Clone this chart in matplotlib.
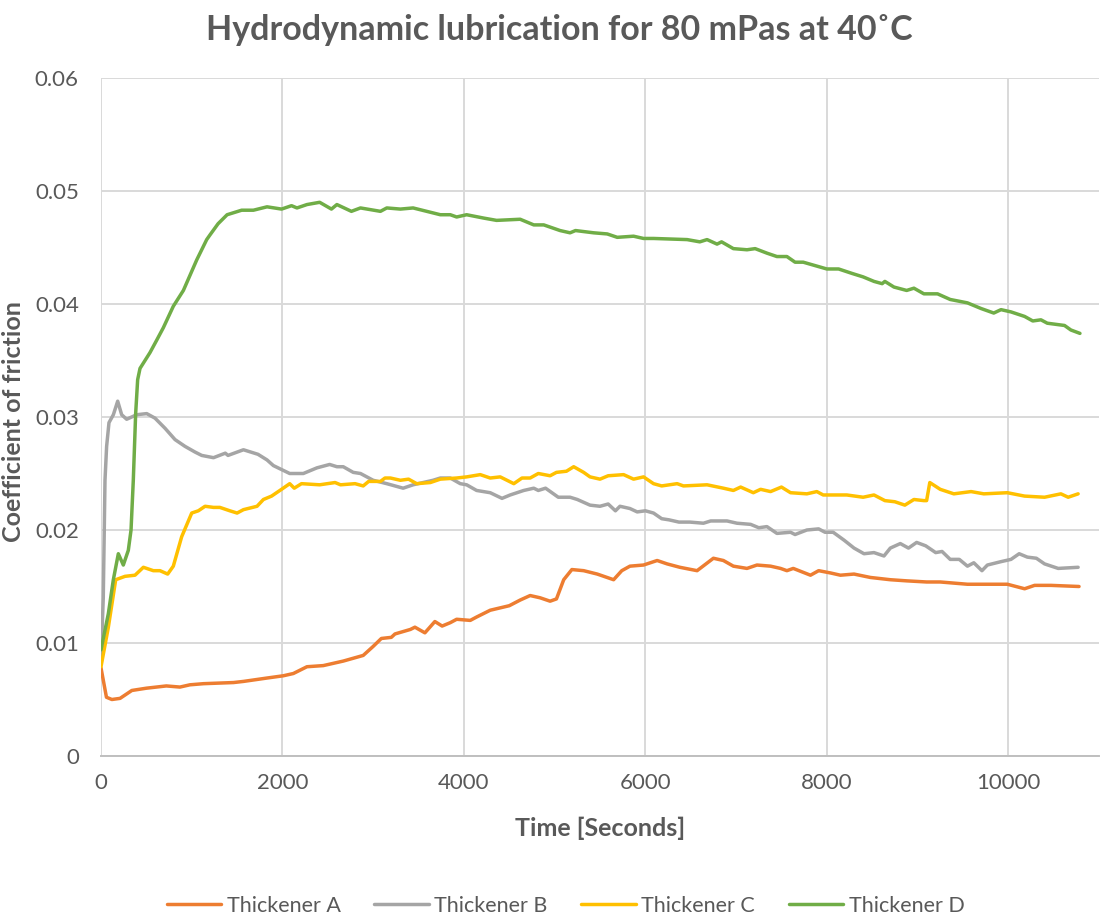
import matplotlib
matplotlib.use("Agg")
import matplotlib.pyplot as plt
from matplotlib.ticker import MultipleLocator, FormatStrFormatter

plt.rcParams['font.family'] = ['Lato', 'DejaVu Sans']

# (time in s, coefficient of friction)
thickener_a = [
    (0, 0.0078), (60, 0.0052), (120, 0.0050), (210, 0.0051), (340, 0.0058), (500, 0.0060),
    (720, 0.0062), (870, 0.0061), (980, 0.0063), (1130, 0.0064), (1460, 0.0065), (1570, 0.0066),
    (1830, 0.0069), (2010, 0.0071), (2120, 0.0073), (2270, 0.0079), (2450, 0.0080), (2670, 0.0084),
    (2890, 0.0089), (3000, 0.0097), (3090, 0.0104), (3200, 0.0105), (3240, 0.0108), (3410, 0.0112),
    (3460, 0.0114), (3570, 0.0109), (3680, 0.0119), (3760, 0.0115), (3850, 0.0118), (3920, 0.0121),
    (4070, 0.0120), (4140, 0.0123), (4290, 0.0129), (4500, 0.0133), (4620, 0.0138), (4730, 0.0142),
    (4840, 0.0140), (4950, 0.0137), (5020, 0.0139), (5100, 0.0156), (5190, 0.0165), (5320, 0.0164),
    (5470, 0.0161), (5650, 0.0156), (5740, 0.0164), (5830, 0.0168), (5980, 0.0169), (6130, 0.0173),
    (6240, 0.0170), (6380, 0.0167), (6570, 0.0164), (6750, 0.0175), (6860, 0.0173), (6970, 0.0168),
    (7120, 0.0166), (7230, 0.0169), (7380, 0.0168), (7490, 0.0166), (7560, 0.0164), (7630, 0.0166),
    (7820, 0.0160), (7910, 0.0164), (8040, 0.0162), (8150, 0.0160), (8300, 0.0161), (8480, 0.0158),
    (8700, 0.0156), (8880, 0.0155), (9100, 0.0154), (9250, 0.0154), (9550, 0.0152), (9990, 0.0152),
    (10180, 0.0148), (10290, 0.0151), (10470, 0.0151), (10780, 0.0150),
]

thickener_b = [
    (0, 0.0085), (25, 0.0140), (44, 0.0244), (62, 0.0274), (88, 0.0295), (136, 0.0302),
    (184, 0.0314), (228, 0.0302), (283, 0.0298), (393, 0.0302), (504, 0.0303), (595, 0.0299),
    (706, 0.0290), (816, 0.0280), (926, 0.0274), (1036, 0.0269), (1110, 0.0266), (1240, 0.0264),
    (1370, 0.0268), (1400, 0.0266), (1570, 0.0271), (1730, 0.0267), (1830, 0.0262), (1900, 0.0257),
    (2080, 0.0250), (2230, 0.0250), (2380, 0.0255), (2520, 0.0258), (2600, 0.0256), (2670, 0.0256),
    (2780, 0.0251), (2860, 0.0250), (3000, 0.0244), (3150, 0.0241), (3330, 0.0237), (3440, 0.0240),
    (3660, 0.0244), (3740, 0.0246), (3850, 0.0246), (3960, 0.0241), (4030, 0.0240), (4140, 0.0235),
    (4290, 0.0233), (4420, 0.0228), (4510, 0.0231), (4660, 0.0235), (4770, 0.0237), (4820, 0.0235),
    (4900, 0.0237), (5040, 0.0229), (5170, 0.0229), (5250, 0.0227), (5390, 0.0222), (5500, 0.0221),
    (5590, 0.0223), (5670, 0.0217), (5720, 0.0221), (5830, 0.0219), (5910, 0.0216), (6000, 0.0217),
    (6090, 0.0215), (6180, 0.0210), (6260, 0.0209), (6370, 0.0207), (6490, 0.0207), (6640, 0.0206),
    (6720, 0.0208), (6900, 0.0208), (7010, 0.0206), (7160, 0.0205), (7250, 0.0202), (7340, 0.0203),
    (7450, 0.0197), (7600, 0.0198), (7650, 0.0196), (7780, 0.0200), (7910, 0.0201), (7980, 0.0198),
    (8070, 0.0198), (8190, 0.0191), (8300, 0.0184), (8410, 0.0179), (8520, 0.0180), (8630, 0.0177),
    (8700, 0.0184), (8810, 0.0188), (8900, 0.0184), (8990, 0.0189), (9090, 0.0186), (9200, 0.0180),
    (9270, 0.0181), (9360, 0.0174), (9460, 0.0174), (9550, 0.0168), (9620, 0.0171), (9710, 0.0164),
    (9770, 0.0169), (9920, 0.0172), (10030, 0.0174), (10120, 0.0179), (10210, 0.0176), (10310, 0.0175),
    (10400, 0.0170), (10550, 0.0166), (10770, 0.0167),
]

thickener_c = [
    (0, 0.0079), (81, 0.0114), (162, 0.0156), (265, 0.0159), (375, 0.0160), (467, 0.0167),
    (577, 0.0164), (650, 0.0164), (735, 0.0161), (797, 0.0168), (889, 0.0194), (1000, 0.0215),
    (1073, 0.0217), (1147, 0.0221), (1240, 0.0220), (1310, 0.0220), (1420, 0.0217), (1500, 0.0215),
    (1570, 0.0218), (1720, 0.0221), (1790, 0.0227), (1880, 0.0230), (1990, 0.0236), (2080, 0.0241),
    (2130, 0.0237), (2210, 0.0241), (2410, 0.0240), (2580, 0.0242), (2640, 0.0240), (2800, 0.0241),
    (2890, 0.0239), (2950, 0.0243), (3080, 0.0243), (3130, 0.0246), (3190, 0.0246), (3300, 0.0244),
    (3390, 0.0245), (3480, 0.0241), (3630, 0.0242), (3740, 0.0245), (3920, 0.0246), (4030, 0.0247),
    (4180, 0.0249), (4290, 0.0246), (4400, 0.0247), (4550, 0.0241), (4640, 0.0246), (4730, 0.0246),
    (4820, 0.0250), (4950, 0.0248), (5020, 0.0251), (5130, 0.0252), (5210, 0.0256), (5320, 0.0251),
    (5390, 0.0247), (5500, 0.0245), (5590, 0.0248), (5760, 0.0249), (5870, 0.0245), (5980, 0.0247),
    (6090, 0.0241), (6180, 0.0239), (6350, 0.0241), (6420, 0.0239), (6680, 0.0240), (6860, 0.0237),
    (6970, 0.0235), (7050, 0.0238), (7190, 0.0233), (7270, 0.0236), (7380, 0.0234), (7500, 0.0238),
    (7600, 0.0233), (7780, 0.0232), (7890, 0.0234), (7960, 0.0231), (8220, 0.0231), (8400, 0.0229),
    (8520, 0.0231), (8640, 0.0226), (8750, 0.0225), (8860, 0.0222), (8960, 0.0227), (9070, 0.0226),
    (9100, 0.0226), (9135, 0.0242), (9250, 0.0236), (9400, 0.0232), (9590, 0.0234), (9730, 0.0232),
    (9990, 0.0233), (10180, 0.0230), (10400, 0.0229), (10580, 0.0232), (10660, 0.0229), (10770, 0.0232),
]

thickener_d = [
    (0, 0.0094), (81, 0.0126), (136, 0.0156), (191, 0.0179), (246, 0.0169), (301, 0.0182),
    (331, 0.0200), (356, 0.0244), (382, 0.0303), (404, 0.0333), (430, 0.0343), (540, 0.0357),
    (614, 0.0368), (687, 0.0379), (797, 0.0398), (908, 0.0412), (1055, 0.0439), (1165, 0.0457),
    (1200, 0.0461), (1290, 0.0471), (1390, 0.0479), (1550, 0.0483), (1680, 0.0483), (1830, 0.0486),
    (1990, 0.0484), (2100, 0.0487), (2160, 0.0485), (2270, 0.0488), (2410, 0.0490), (2540, 0.0484),
    (2600, 0.0488), (2760, 0.0482), (2860, 0.0485), (3080, 0.0482), (3150, 0.0485), (3300, 0.0484),
    (3440, 0.0485), (3590, 0.0482), (3740, 0.0479), (3850, 0.0479), (3920, 0.0477), (4030, 0.0479),
    (4220, 0.0476), (4360, 0.0474), (4620, 0.0475), (4770, 0.0470), (4880, 0.0470), (5060, 0.0465),
    (5170, 0.0463), (5230, 0.0465), (5430, 0.0463), (5580, 0.0462), (5690, 0.0459), (5870, 0.0460),
    (5980, 0.0458), (6090, 0.0458), (6460, 0.0457), (6600, 0.0455), (6680, 0.0457), (6790, 0.0453),
    (6840, 0.0455), (6970, 0.0449), (7120, 0.0448), (7210, 0.0449), (7340, 0.0445), (7450, 0.0442),
    (7560, 0.0442), (7650, 0.0437), (7740, 0.0437), (7870, 0.0434), (8000, 0.0431), (8130, 0.0431),
    (8280, 0.0427), (8400, 0.0424), (8520, 0.0420), (8610, 0.0418), (8640, 0.0420), (8740, 0.0415),
    (8880, 0.0412), (8960, 0.0414), (9070, 0.0409), (9220, 0.0409), (9360, 0.0404), (9550, 0.0401),
    (9700, 0.0396), (9840, 0.0392), (9920, 0.0395), (10030, 0.0393), (10180, 0.0389), (10270, 0.0385),
    (10360, 0.0386), (10430, 0.0383), (10620, 0.0381), (10690, 0.0377), (10790, 0.0374),
]

series_names = ['Thickener A', 'Thickener B', 'Thickener C', 'Thickener D']
series_data = [thickener_a, thickener_b, thickener_c, thickener_d]
series_colors = ['#ED7D31', '#A5A5A5', '#FFC000', '#70AD47']

text_col = '#595959'
grid_col = '#D9D9D9'

fig = plt.figure(figsize=(11.01, 9.21), dpi=100)
ax = fig.add_axes([101 / 1101, 1 - 756 / 921, 998 / 1101, 678 / 921])

for name, pts, col in zip(series_names, series_data, series_colors):
    t = [p[0] for p in pts]
    v = [p[1] for p in pts]
    ax.plot(t, v, color=col, lw=2.5, label=name, solid_capstyle='round', solid_joinstyle='round')

ax.set_xlim(0, 11000)
ax.set_ylim(0, 0.06)
ax.xaxis.set_major_locator(MultipleLocator(2000))
ax.yaxis.set_major_locator(MultipleLocator(0.01))
ax.yaxis.set_major_formatter(FormatStrFormatter('%g'))

ax.grid(True, color=grid_col, lw=1.4)
ax.set_axisbelow(True)
for s in ['top', 'right', 'left']:
    ax.spines[s].set_visible(False)
ax.spines['bottom'].set_color('#BFBFBF')
ax.spines['bottom'].set_linewidth(1.4)
ax.tick_params(length=0, labelsize=16, colors=text_col)
ax.tick_params(axis='x', pad=12)
ax.tick_params(axis='y', pad=16)

# axis titles and chart title placed in figure coordinates
fig.text(600 / 1101, 1 - 828 / 921, 'Time [Seconds]', ha='center', va='center',
         fontsize=18, fontweight='bold', color=text_col)
fig.text(14 / 1101, 1 - 422 / 921, 'Coefficient of friction', ha='center', va='center',
         rotation=90, fontsize=18, fontweight='bold', color=text_col)
fig.text(0.508, 1 - 30 / 921, 'Hydrodynamic lubrication for 80 mPas at 40˚C', ha='center',
         va='center', fontsize=24.5, fontweight='bold', color=text_col)

fig.legend(loc='center', bbox_to_anchor=(0.5137, 0.0163), ncol=4, frameon=False,
           fontsize=15.5, labelcolor=text_col, handlelength=2.55, handletextpad=0.25,
           columnspacing=1.55)

fig.savefig('out.png', dpi=100)
